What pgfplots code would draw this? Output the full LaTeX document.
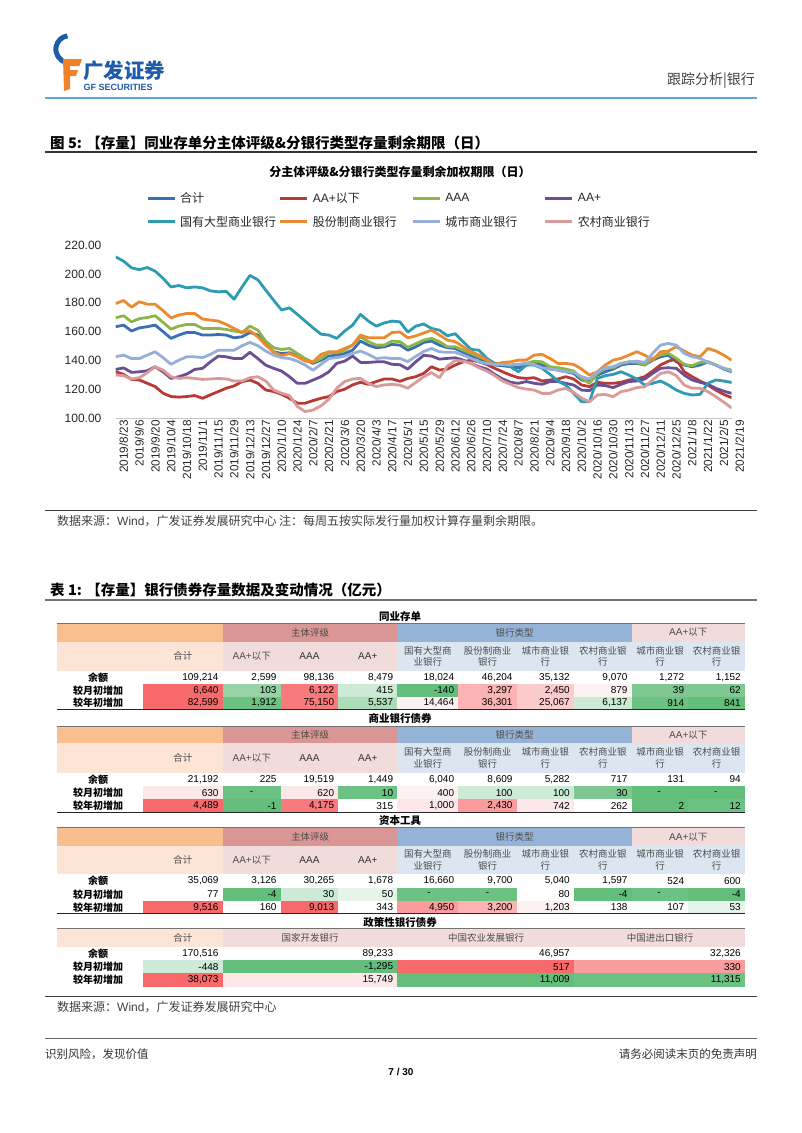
\documentclass[border=0pt]{standalone}
\usepackage{pgfplots}
\pgfplotsset{compat=1.18}
\usepackage{pgfplotstable}
\usepackage{fontspec}
\setmainfont{Liberation Sans}
\newfontfamily\lib{Liberation Sans}
\newfontfamily\cjk{Noto Sans CJK SC}

\definecolor{cTotal}{HTML}{3A6FB0}
\definecolor{cLow}{HTML}{B83A37}
\definecolor{cAAA}{HTML}{8DB548}
\definecolor{cAAp}{HTML}{6B4E94}
\definecolor{cBig}{HTML}{2E9BB3}
\definecolor{cShare}{HTML}{EB8A30}
\definecolor{cCity}{HTML}{95AFD9}
\definecolor{cRural}{HTML}{DA9A9A}
\definecolor{gfblue}{HTML}{1E5BA8}
\definecolor{gforange}{HTML}{F0822A}
\definecolor{hdrline}{HTML}{5AA9D6}
% table colours
\definecolor{W}{HTML}{FFFFFF}
\definecolor{G1}{HTML}{63BE7B}
\definecolor{G2}{HTML}{6BC282}
\definecolor{G3}{HTML}{7FC892}
\definecolor{G4}{HTML}{96D3A5}
\definecolor{G5}{HTML}{ADDCB9}
\definecolor{G6}{HTML}{CCEAD5}
\definecolor{G7}{HTML}{E6F4EA}
\definecolor{R1}{HTML}{F8696B}
\definecolor{R2}{HTML}{F97A7C}
\definecolor{R3}{HTML}{FA9C9D}
\definecolor{R4}{HTML}{FBB3B4}
\definecolor{R5}{HTML}{FCCBCC}
\definecolor{R6}{HTML}{FDE8E9}
\definecolor{R7}{HTML}{FDF2F2}
\definecolor{hOr1}{HTML}{F9BF8F}
\definecolor{hOr2}{HTML}{FCE4D6}
\definecolor{hRd1}{HTML}{DA9694}
\definecolor{hPk2}{HTML}{F2DCDB}
\definecolor{hBl1}{HTML}{95B3D7}
\definecolor{hBl2}{HTML}{DCE6F1}

\pgfplotstableread{
i total low aaa aap big share city rural
0 163.4 132.1 169.6 133.7 211.9 179.5 142.5 129.9
1 164.5 130.3 171.0 134.8 208.9 181.6 143.7 129.4
2 160.4 126.8 166.8 131.7 204.3 177.0 141.3 127.1
3 162.6 126.4 169.0 132.1 203.0 180.7 141.3 128.0
4 163.4 124.1 169.8 132.8 204.5 179.0 143.7 131.5
5 164.5 121.8 171.0 135.6 202.0 179.0 146.0 135.6
6 160.0 117.2 166.4 132.1 197.0 174.5 141.9 133.3
7 155.3 114.9 161.7 127.5 191.0 169.6 137.3 128.7
8 157.6 114.5 163.8 128.7 192.0 171.5 140.2 127.5
9 159.4 114.9 165.0 130.5 190.4 172.6 142.5 128.0
10 159.4 115.6 165.0 133.7 191.0 172.6 142.5 127.5
11 157.6 113.7 162.2 134.5 190.4 168.7 141.9 126.8
12 157.6 116.1 162.2 139.0 188.3 168.0 144.2 127.1
13 158.0 118.4 162.2 143.0 187.6 167.3 147.1 127.5
14 157.6 120.7 161.5 142.5 188.0 165.0 147.1 127.1
15 155.7 122.3 160.4 141.3 182.5 162.2 147.1 125.7
16 156.4 125.3 159.4 141.3 191.0 159.4 150.2 125.7
17 159.4 126.4 163.8 145.6 199.0 160.6 152.5 128.0
18 157.6 124.1 161.0 141.3 196.0 156.4 150.2 128.7
19 151.1 119.5 153.4 136.7 188.8 150.6 146.5 125.7
20 146.0 118.4 148.8 134.5 181.8 146.0 143.7 119.5
21 144.8 116.5 147.6 132.6 175.0 143.2 141.9 117.2
22 145.3 113.7 148.3 128.7 176.5 144.8 141.3 115.6
23 143.0 110.3 144.8 124.1 172.0 142.5 139.5 108.0
24 140.7 110.3 141.3 124.1 167.3 139.5 136.7 104.5
25 137.9 112.1 138.6 126.4 162.6 139.0 133.2 105.5
26 140.2 113.7 141.3 128.7 158.2 144.2 137.3 108.5
27 143.0 114.9 145.3 132.1 157.6 146.0 141.3 113.0
28 143.7 118.4 145.3 138.0 155.3 146.0 141.9 120.7
29 144.8 120.0 147.1 139.5 160.4 148.3 143.0 125.3
30 147.1 123.0 150.6 143.0 164.5 150.6 144.8 127.1
31 153.4 124.8 156.4 138.6 172.0 157.6 146.5 127.5
32 150.6 123.4 153.0 138.6 167.3 155.7 144.2 124.1
33 148.8 125.3 150.6 139.0 163.8 155.7 141.3 121.8
34 149.4 127.1 150.6 139.0 166.0 155.7 141.9 123.0
35 151.1 127.1 153.4 137.3 167.3 159.4 141.3 123.4
36 150.6 125.5 153.0 137.0 166.8 159.7 141.3 122.8
37 147.1 127.5 149.1 134.0 159.6 155.7 139.2 120.7
38 149.4 128.7 151.5 139.0 163.8 157.0 142.8 124.7
39 152.5 131.0 154.1 143.5 165.3 159.0 146.2 128.7
40 153.4 135.6 155.3 143.0 162.2 161.0 148.3 131.5
41 150.6 133.3 153.0 140.9 161.0 157.6 146.0 128.0
42 148.8 134.0 149.5 141.4 157.1 154.1 145.6 136.0
43 148.3 136.8 149.5 141.8 158.5 153.0 145.6 140.0
44 145.6 139.0 147.1 140.2 153.0 149.5 143.7 139.5
45 143.2 140.2 144.9 137.9 147.6 146.0 141.4 137.9
46 141.4 139.0 142.5 135.6 147.1 143.7 139.0 134.9
47 139.0 137.2 140.2 134.0 141.4 140.2 137.9 132.6
48 136.8 134.5 137.2 130.3 137.9 137.2 137.2 129.4
49 136.3 132.1 137.2 127.1 137.9 138.6 137.2 125.7
50 135.6 129.8 136.8 124.8 135.6 139.0 136.8 123.4
51 134.9 128.0 137.2 124.1 132.1 140.2 137.2 121.1
52 136.8 127.5 137.9 125.3 136.8 140.2 137.9 120.1
53 137.9 128.0 139.5 124.1 136.8 143.7 137.2 119.4
54 136.8 125.7 139.0 123.4 134.5 144.2 134.9 117.1
55 134.0 126.4 135.6 125.3 130.3 141.4 134.0 117.1
56 133.3 127.1 134.9 125.3 125.7 137.9 133.3 119.4
57 132.1 128.7 134.0 124.1 122.9 137.9 132.1 120.6
58 131.0 127.1 132.6 122.9 117.1 137.2 131.7 117.8
59 126.4 122.9 127.5 119.4 111.3 134.0 128.7 113.7
60 125.2 121.8 124.1 119.0 111.3 129.8 127.1 111.3
61 129.8 124.8 131.0 122.9 127.5 132.1 132.1 116.0
62 132.1 124.1 134.5 122.5 129.4 136.8 134.9 116.4
63 134.0 124.1 134.9 121.1 130.3 140.2 135.6 114.8
64 136.8 124.8 137.9 123.4 132.1 141.4 137.9 118.3
65 137.9 126.4 139.0 125.3 129.8 143.7 139.0 119.4
66 137.9 127.1 138.6 125.7 127.1 146.0 139.5 121.1
67 136.8 128.7 136.8 127.1 122.9 143.7 138.6 121.7
68 140.2 132.6 141.4 131.0 124.1 140.2 144.9 126.4
69 142.5 136.8 143.7 134.5 125.7 146.0 150.6 131.0
70 143.7 139.5 144.9 134.9 122.9 146.5 151.8 132.1
71 139.0 140.9 141.4 134.5 119.4 149.5 150.6 129.4
72 136.8 132.1 137.2 129.8 117.1 146.5 144.9 122.9
73 135.6 128.7 136.3 126.4 116.0 143.7 142.5 120.6
74 136.8 125.7 138.6 124.8 116.4 142.5 141.4 120.6
75 139.0 122.9 139.0 123.4 124.1 148.3 138.6 118.3
76 136.8 119.4 136.8 120.6 126.4 146.5 136.8 114.8
77 134.0 116.4 134.5 118.7 125.7 143.7 134.5 111.0
78 132.1 114.1 133.3 117.1 124.7 140.2 132.6 107.0
}\chartdata

\def\E{{56.7,143,222.7,280.7,338.3,397.3,458.3,516.7,574,631.7,688.3,745}}
\newcommand\numf{\lib\fontsize{10}{10}\selectfont}
\newcommand\hf{\cjk\fontsize{9.5}{11.5}\selectfont\color{black!70}}
\newcommand\dash{\makebox[50pt][c]{-}}
% data row: y1 y2 label list
\newcommand\vrow[4]{%
  \foreach \fc/\vv [count=\k] in {#4} {%
    \pgfmathsetmacro\xa{\E[\k]}%
    \pgfmathsetmacro\xb{\E[\k+1]}%
    \fill[\fc] (\xa,#1) rectangle (\xb,#2);
    \node[anchor=east, inner sep=0pt, font=\numf] at ({\xb-4},{(#1+#2)/2}) {\vv};
  }
  \node[inner sep=0pt, font=\cjk\bfseries\fontsize{10}{10}\selectfont] at (98,{(#1+#2)/2}) {#3};
}
% header rows: top, mid, bottom
\newcommand\hdrs[3]{%
  \fill[hOr1] (56.7,#1) rectangle (222.7,#2);
  \fill[hRd1] (222.7,#1) rectangle (397.3,#2);
  \fill[hBl1] (397.3,#1) rectangle (631.7,#2);
  \fill[hPk2] (631.7,#1) rectangle (745,#2);
  \fill[hOr2] (56.7,#2) rectangle (222.7,#3);
  \fill[hPk2] (222.7,#2) rectangle (397.3,#3);
  \fill[hBl2] (397.3,#2) rectangle (745,#3);
  \draw[black!55, line width=1.4pt] (56.7,#1) -- (745,#1);
  \node[inner sep=0pt, font=\hf] at (310,{(#1+#2)/2}) {主体评级};
  \node[inner sep=0pt, font=\hf] at (514.5,{(#1+#2)/2}) {银行类型};
  \node[inner sep=0pt, font=\hf] at (688.3,{(#1+#2)/2}) {{\lib\fontsize{10}{10}\selectfont AA+}以下};
  \node[inner sep=0pt, font=\hf] at (182.9,{(#2+#3)/2}) {合计};
  \node[inner sep=0pt, font=\hf] at (251.7,{(#2+#3)/2}) {{\lib\fontsize{10}{10}\selectfont AA+}以下};
  \node[inner sep=0pt, font=\lib\fontsize{10}{10}\selectfont\color{black!80}] at (309.5,{(#2+#3)/2}) {AAA};
  \node[inner sep=0pt, font=\lib\fontsize{10}{10}\selectfont\color{black!80}] at (367.8,{(#2+#3)/2}) {AA+};
  \node[inner sep=0pt, font=\hf, align=center] at (427.8,{(#2+#3)/2}) {国有大型商\\业银行};
  \node[inner sep=0pt, font=\hf, align=center] at (487.5,{(#2+#3)/2}) {股份制商业\\银行};
  \node[inner sep=0pt, font=\hf, align=center] at (545.3,{(#2+#3)/2}) {城市商业银\\行};
  \node[inner sep=0pt, font=\hf, align=center] at (602.8,{(#2+#3)/2}) {农村商业银\\行};
  \node[inner sep=0pt, font=\hf, align=center] at (660,{(#2+#3)/2}) {城市商业银\\行};
  \node[inner sep=0pt, font=\hf, align=center] at (716.6,{(#2+#3)/2}) {农村商业银\\行};
}

\begin{document}
\begin{tikzpicture}
\begin{scope}[x=1pt,y=-1pt]
\path (0,0) rectangle (802,1133);
% ---------- page header ----------
\draw[gfblue, line width=5pt] (67,62.5) arc[start angle=100, end angle=262, radius=13.5];
\fill[gforange] (63,59) -- (82,59) -- (79.5,66) -- (68,66) -- cycle;
\fill[gforange] (66,70) -- (78,70) -- (76,76) -- (66,76) -- cycle;
\fill[gforange] (63,59) -- (70,59) -- (70,89) -- (64,91) -- cycle;
\node[anchor=west, inner sep=0pt, font=\cjk\bfseries\fontsize{20.5}{21}\selectfont, text=gfblue] at (83,70.5) {广发证券};
\node[anchor=west, inner sep=0pt, font=\lib\bfseries\fontsize{9}{9}\selectfont, text=gfblue] at (83.5,87.5) {GF SECURITIES};
\node[anchor=east, inner sep=0pt, font=\cjk\fontsize{14}{14}\selectfont, text=black!75] at (755,81) {跟踪分析|银行};
\draw[hdrline, line width=2pt] (45,97.5) -- (757,97.5);
% ---------- figure title ----------
\node[anchor=west, inner sep=0pt, font=\cjk\bfseries\fontsize{14.5}{15}\selectfont] at (50,143) {图 5: 【存量】同业存单分主体评级\&分银行类型存量剩余期限（日）};
\draw[black!80, line width=1.2pt] (45,152) -- (757,152);
\node[inner sep=0pt, font=\cjk\bfseries\fontsize{12}{12}\selectfont] at (400,172) {分主体评级\&分银行类型存量剩余加权期限（日）};
% ---------- chart note ----------
\draw[black!75, line width=1.2pt] (45,510.5) -- (757,510.5);
\node[anchor=west, inner sep=0pt, font=\cjk\fontsize{12}{12}\selectfont, text=black!75] at (57,521) {数据来源：{\lib Wind}，广发证券发展研究中心 注：每周五按实际发行量加权计算存量剩余期限。};
% ---------- table ----------
\node[anchor=west, inner sep=0pt, font=\cjk\bfseries\fontsize{14.5}{15}\selectfont] at (50,590) {表 1: 【存量】银行债券存量数据及变动情况（亿元）};
\draw[black!55, line width=1.2pt] (45,600) -- (757,600);
% section 1
\node[inner sep=0pt, font=\cjk\bfseries\fontsize{10.5}{10.5}\selectfont] at (400,616.7) {同业存单};
\hdrs{623.3}{641.7}{670.7}
\vrow{670.7}{684}{余额}{W/109{,}214, W/2{,}599, W/98{,}136, W/8{,}479, W/18{,}024, W/46{,}204, W/35{,}132, W/9{,}070, W/1{,}272, W/1{,}152}
\vrow{684}{696.7}{较月初增加}{R1/6{,}640, G4/103, R2/6{,}122, G6/415, G1/-140, R4/3{,}297, R5/2{,}450, R7/879, G3/39, G3/62}
\vrow{696.7}{709.3}{较年初增加}{R1/82{,}599, G2/1{,}912, R2/75{,}150, G5/5{,}537, R7/14{,}464, R4/36{,}301, R5/25{,}067, G6/6{,}137, G2/914, G1/841}
\draw[black!85, line width=1.2pt] (56.7,709.3) -- (745,709.3);
% section 2
\node[inner sep=0pt, font=\cjk\bfseries\fontsize{10.5}{10.5}\selectfont] at (400,718.3) {商业银行债券};
\hdrs{726.7}{743.3}{772.7}
\vrow{772.7}{786}{余额}{W/21{,}192, W/225, W/19{,}519, W/1{,}449, W/6{,}040, W/8{,}609, W/5{,}282, W/717, W/131, W/94}
\vrow{786}{799.3}{较月初增加}{R6/630, G2/\dash, R6/620, G2/10, R7/400, G6/100, G6/100, G3/30, G1/\dash, G1/\dash}
\vrow{799.3}{812.7}{较年初增加}{R1/4{,}489, G1/-1, R2/4{,}175, W/315, R6/1{,}000, R3/2{,}430, R6/742, W/262, G1/2, G2/12}
\draw[black!85, line width=1.2pt] (56.7,812.7) -- (745,812.7);
% section 3
\node[inner sep=0pt, font=\cjk\bfseries\fontsize{10.5}{10.5}\selectfont] at (400,820.7) {资本工具};
\hdrs{827.7}{845.7}{874.3}
\vrow{874.3}{887.7}{余额}{W/35{,}069, W/3{,}126, W/30{,}265, W/1{,}678, W/16{,}660, W/9{,}700, W/5{,}040, W/1{,}597, W/524, W/600}
\vrow{887.7}{901}{较月初增加}{W/77, G1/-4, G6/30, G7/50, G2/\dash, G2/\dash, W/80, G1/-4, G2/\dash, G1/-4}
\vrow{901}{913.7}{较年初增加}{R1/9{,}516, W/160, R1/9{,}013, W/343, R3/4{,}950, R4/3{,}200, R7/1{,}203, W/138, W/107, G7/53}
\draw[black!85, line width=1.2pt] (56.7,913.7) -- (745,913.7);
% section 4
\node[inner sep=0pt, font=\cjk\bfseries\fontsize{10.5}{10.5}\selectfont] at (400,922.3) {政策性银行债券};
\fill[hOr2] (56.7,928.3) rectangle (222.7,946.7);
\fill[hPk2] (222.7,928.3) rectangle (745,946.7);
\draw[black!55, line width=1.4pt] (56.7,928.3) -- (745,928.3);
\node[inner sep=0pt, font=\hf] at (182.9,937.5) {合计};
\node[inner sep=0pt, font=\hf] at (310,937.5) {国家开发银行};
\node[inner sep=0pt, font=\hf] at (486,937.5) {中国农业发展银行};
\node[inner sep=0pt, font=\hf] at (660,937.5) {中国进出口银行};
% rows (columns: 143-222.7, 222.7-397.3, 397.3-574, 574-745)
\fill[R1] (143,973.3) rectangle (222.7,986.7);
\fill[G6] (143,960) rectangle (222.7,973.3);
\fill[G1] (222.7,960) rectangle (397.3,973.3);
\fill[R6] (222.7,973.3) rectangle (397.3,986.7);
\fill[R1] (397.3,960) rectangle (574,973.3);
\fill[G1] (397.3,973.3) rectangle (574,986.7);
\fill[R3] (574,960) rectangle (745,973.3);
\fill[G2] (574,973.3) rectangle (745,986.7);
\foreach \yy/\lab/\a/\b/\c/\d in {953.3/余额/170{,}516/89{,}233/46{,}957/32{,}326, 966.7/较月初增加/-448/-1{,}295/517/330, 980/较年初增加/38{,}073/15{,}749/11{,}009/11{,}315}{
  \node[inner sep=0pt, font=\cjk\bfseries\fontsize{10}{10}\selectfont] at (98,\yy) {\lab};
  \node[anchor=east, inner sep=0pt, font=\numf] at (218.7,\yy) {\a};
  \node[anchor=east, inner sep=0pt, font=\numf] at (393.3,\yy) {\b};
  \node[anchor=east, inner sep=0pt, font=\numf] at (570,\yy) {\c};
  \node[anchor=east, inner sep=0pt, font=\numf] at (741,\yy) {\d};
}
\draw[black!75, line width=1.2pt] (45,996.7) -- (757,996.7);
\node[anchor=west, inner sep=0pt, font=\cjk\fontsize{12}{12}\selectfont, text=black!75] at (57,1007.5) {数据来源：{\lib Wind}，广发证券发展研究中心};
% ---------- footer ----------
\draw[black!60, line width=1pt] (45,1038) -- (757,1038);
\node[anchor=west, inner sep=0pt, font=\cjk\fontsize{11.5}{12}\selectfont, text=black!80] at (45,1054.5) {识别风险，发现价值};
\node[anchor=east, inner sep=0pt, font=\cjk\fontsize{11.5}{12}\selectfont, text=black!80] at (757,1054.5) {请务必阅读末页的免责声明};
\node[inner sep=0pt, font=\lib\bfseries\fontsize{10}{10}\selectfont] at (401,1072) {7 / 30};
\end{scope}

\begin{axis}[
  at={(115.7pt,-418pt)}, anchor=south west,
  scale only axis, width=615.9pt, height=172.8pt,
  xmin=0, xmax=78, ymin=100, ymax=220,
  axis x line=bottom, axis y line=left,
  x axis line style={draw=black!22, line width=0.9pt, -},
  y axis line style={draw=none},
  tick style={draw=none},
  xtick={0,2,...,78},
  xticklabels={2019/8/23,2019/9/6,2019/9/20,2019/10/4,2019/10/18,2019/11/1,2019/11/15,2019/11/29,2019/12/13,2019/12/27,2020/1/10,2020/1/24,2020/2/7,2020/2/21,2020/3/6,2020/3/20,2020/4/3,2020/4/17,2020/5/1,2020/5/15,2020/5/29,2020/6/12,2020/6/26,2020/7/10,2020/7/24,2020/8/7,2020/8/21,2020/9/4,2020/9/18,2020/10/2,2020/10/16,2020/10/30,2020/11/13,2020/11/27,2020/12/11,2020/12/25,2021/1/8,2021/1/22,2021/2/5,2021/2/19},
  xticklabel style={rotate=90, anchor=east, inner sep=0pt, font=\lib\fontsize{11.8}{12}\selectfont, text=black!85, yshift=-8pt},
  ytick={100,120,...,220},
  yticklabels={100.00,120.00,140.00,160.00,180.00,200.00,220.00},
  yticklabel style={anchor=east, inner sep=0pt, font=\lib\fontsize{12}{12}\selectfont, text=black!85, xshift=-12pt},
  /pgf/number format/assume math mode=true,
  legend columns=4,
  legend cell align=left,
  legend style={at={(0.0492,1.306)}, anchor=north west, draw=none, fill=none, inner sep=0pt,
    font=\cjk\fontsize{12}{12}\selectfont, text=black!85,
    /tikz/column sep=0pt, /tikz/row sep=12pt, nodes={inner sep=0pt}},
  legend image code/.code={\draw[#1, line width=3pt] (0pt,0pt) -- (27pt,0pt);},
  every axis plot/.append style={line width=2.8pt, mark=none, line join=round},
]
\addplot[cTotal] table[x=i, y=total] {\chartdata};
\addlegendentry{\makebox[102.6pt][l]{\hspace{4pt}合计}}
\addplot[cLow] table[x=i, y=low] {\chartdata};
\addlegendentry{\makebox[102.6pt][l]{\hspace{4pt}{\lib AA+}以下}}
\addplot[cAAA] table[x=i, y=aaa] {\chartdata};
\addlegendentry{\makebox[102.6pt][l]{\hspace{4pt}{\lib AAA}}}
\addplot[cAAp] table[x=i, y=aap] {\chartdata};
\addlegendentry{\makebox[102.6pt][l]{\hspace{4pt}{\lib AA+}}}
\addplot[cBig] table[x=i, y=big] {\chartdata};
\addlegendentry{\makebox[102.6pt][l]{\hspace{4pt}国有大型商业银行}}
\addplot[cShare] table[x=i, y=share] {\chartdata};
\addlegendentry{\makebox[102.6pt][l]{\hspace{4pt}股份制商业银行}}
\addplot[cCity] table[x=i, y=city] {\chartdata};
\addlegendentry{\makebox[102.6pt][l]{\hspace{4pt}城市商业银行}}
\addplot[cRural] table[x=i, y=rural] {\chartdata};
\addlegendentry{\makebox[102.6pt][l]{\hspace{4pt}农村商业银行}}
\end{axis}
\end{tikzpicture}
\end{document}
